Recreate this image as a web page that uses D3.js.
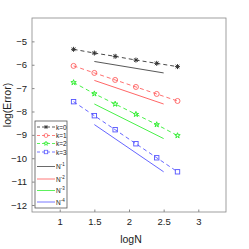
<!DOCTYPE html>
<html>
<head>
<meta charset="utf-8">
<script src="https://cdn.jsdelivr.net/npm/d3@7"></script>
<style>
  body { margin: 0; background: #fff; }
  text { font-family: "Liberation Sans", Arial, sans-serif; }
</style>
</head>
<body>
<div id="chart"></div>
<script>
  // datos
  var logN = [1.2, 1.5, 1.8, 2.1, 2.4, 2.7];
  var k0 = [-5.34, -5.5, -5.64, -5.8, -5.94, -6.08];
  var k1 = [-6.05, -6.35, -6.65, -6.95, -7.25, -7.55];
  var k2 = [-6.76, -7.24, -7.68, -8.12, -8.56, -9.03];
  var k3 = [-7.58, -8.18, -8.78, -9.38, -9.98, -10.58];
  var refX = [1.5, 2.5];
  var refN1 = [-5.86, -6.35];
  var refN2 = [-6.67, -7.68];
  var refN3 = [-7.68, -9.16];
  var refN4 = [-8.56, -10.58];
  var xTicks = [1, 1.5, 2, 2.5, 3];
  var yTicks = [-12, -11, -10, -9, -8, -7, -6, -5];

  var W = 249, H = 249;
  var margin = {top: 18, right: 23, bottom: 37, left: 32},
      width = W - margin.left - margin.right,
      height = H - margin.top - margin.bottom;

  var svg = d3.select("#chart").append("svg")
      .attr("width", W).attr("height", H)
    .append("g")
      .attr("transform", "translate(" + margin.left + "," + margin.top + ")");

  var x = d3.scaleLinear().domain([0.6, 3.4]).range([0, width]);
  var y = d3.scaleLinear().domain([-12.3, -4]).range([height, 0]);

  // caja
  svg.append("rect").attr("width", width).attr("height", height)
    .style("fill", "none").style("stroke", "#888").style("stroke-width", 0.8);

  var xAxis = svg.append("g").attr("transform", "translate(0," + height + ")")
    .call(d3.axisBottom(x).tickValues(xTicks).tickSizeInner(-2.5).tickSizeOuter(0).tickPadding(6)
      .tickFormat(function(d) { return d; }));
  var yAxis = svg.append("g")
    .call(d3.axisLeft(y).tickValues(yTicks).tickSizeInner(-2.5).tickSizeOuter(0).tickPadding(5));
  [xAxis, yAxis].forEach(function(a) {
    a.select(".domain").remove();
    a.selectAll("line").style("stroke", "#888");
    a.selectAll("text").style("font-size", "9.5px").style("fill", "#222")
      .style("font-family", "'Liberation Sans', Arial, sans-serif");
  });

  svg.append("text").attr("x", width / 2 + 2).attr("y", height + 31)
    .attr("text-anchor", "middle").style("font-size", "10.5px").style("fill", "#222").text("logN");
  svg.append("text").attr("transform", "translate(-21," + (height / 2 - 10) + ") rotate(-90)")
    .attr("text-anchor", "middle").style("font-size", "10.5px").style("fill", "#222").text("log(Error)");

  var series = [
    {name: "k=0", vals: k0, color: "#333333", mark: "star"},
    {name: "k=1", vals: k1, color: "#ff6060", mark: "circle"},
    {name: "k=2", vals: k2, color: "#33ee33", mark: "hex"},
    {name: "k=3", vals: k3, color: "#5555ff", mark: "square"}
  ];
  var refs = [
    {name: "1", vals: refN1, color: "#444444"},
    {name: "2", vals: refN2, color: "#ff5555"},
    {name: "3", vals: refN3, color: "#33ee33"},
    {name: "4", vals: refN4, color: "#5555ff"}
  ];

  var line = d3.line().x(function(d) { return x(d[0]); }).y(function(d) { return y(d[1]); });

  function marker(g, type, color) {
    if (type == "star") {
      g.append("path").attr("d", "M-2.5,0H2.5M0,-2.5V2.5M-1.8,-1.8L1.8,1.8M-1.8,1.8L1.8,-1.8")
        .style("stroke", color).style("stroke-width", 1).style("fill", "none");
    } else if (type == "circle") {
      g.append("circle").attr("r", 2.5).style("stroke", color).style("fill", "none").style("stroke-width", 0.9);
    } else if (type == "hex") {
      g.append("path").attr("d", d3.symbol().type(d3.symbolStar).size(9)())
        .style("stroke", color).style("fill", "none").style("stroke-width", 1);
    } else {
      g.append("rect").attr("x", -2.2).attr("y", -2.2).attr("width", 4.4).attr("height", 4.4)
        .style("stroke", color).style("fill", "none").style("stroke-width", 0.9);
    }
  }

  series.forEach(function(s) {
    var pts = logN.map(function(v, i) { return [v, s.vals[i]]; });
    svg.append("path").attr("d", line(pts))
      .style("fill", "none").style("stroke", s.color).style("stroke-width", 0.9)
      .style("stroke-dasharray", "4,3");
    pts.forEach(function(p) {
      var g = svg.append("g").attr("transform", "translate(" + x(p[0]) + "," + y(p[1]) + ")");
      marker(g, s.mark, s.color);
    });
  });

  refs.forEach(function(r) {
    var pts = refX.map(function(v, i) { return [v, r.vals[i]]; });
    svg.append("path").attr("d", line(pts))
      .style("fill", "none").style("stroke", r.color).style("stroke-width", 0.9);
  });

  // leyenda
  var leg = svg.append("g").attr("transform", "translate(3,103)");
  leg.append("rect").attr("width", 32).attr("height", 87)
    .style("fill", "#fff").style("stroke", "#555").style("stroke-width", 0.8);
  var legY = [6, 14.5, 22.5, 31, 45.5, 58, 69.5, 81];
  series.forEach(function(s, i) {
    var yy = legY[i];
    leg.append("line").attr("x1", 2).attr("x2", 20).attr("y1", yy).attr("y2", yy)
      .style("stroke", s.color).style("stroke-width", 0.8).style("stroke-dasharray", "3,2");
    marker(leg.append("g").attr("transform", "translate(11," + yy + ") scale(0.8)"), s.mark, s.color);
    leg.append("text").attr("x", 21).attr("y", yy + 2.5).style("font-size", "6.5px").style("fill", "#222").text(s.name);
  });
  refs.forEach(function(r, i) {
    var yy = legY[i + 4];
    leg.append("line").attr("x1", 2).attr("x2", 20).attr("y1", yy).attr("y2", yy)
      .style("stroke", r.color).style("stroke-width", 0.8);
    var t = leg.append("text").attr("x", 21).attr("y", yy + 2.5).style("font-size", "6.5px").style("fill", "#222");
    t.append("tspan").text("N");
    t.append("tspan").attr("dy", -3).style("font-size", "4.5px").text("-" + r.name);
  });
</script>
</body>
</html>
